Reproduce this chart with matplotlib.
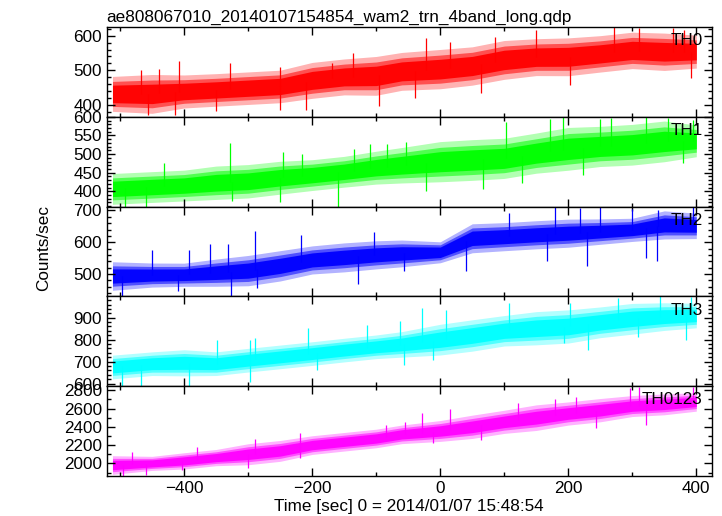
import numpy as np
import matplotlib
matplotlib.use("Agg")
import matplotlib.pyplot as plt
from matplotlib.ticker import MultipleLocator

plt.rcParams['font.family'] = ['Liberation Sans', 'DejaVu Sans']

title = "ae808067010_20140107154854_wam2_trn_4band_long.qdp"
xlabel = "Time [sec] 0 = 2014/01/07 15:48:54"
ylabel = "Counts/sec"
names = ["TH0", "TH1", "TH2", "TH3", "TH0123"]
colors = ["#ff0000", "#00ff00", "#0000ff", "#00ffff", "#ff00ff"]

# time grid of envelope readings (sec)
t_grid = [-512, -450, -400, -350, -300, -250, -200, -150, -100, -60, 0,
          50, 100, 150, 200, 250, 300, 350, 400]

# core band (low / high)
th0_lo = [396, 392, 405, 410, 415, 420, 434, 444, 444, 458, 463, 473, 490, 500, 500, 510, 520, 515, 520]
th0_hi = [468, 472, 473, 477, 482, 487, 508, 518, 524, 536, 544, 552, 570, 576, 578, 585, 595, 592, 588]
th1_lo = [377, 382, 386, 391, 395, 405, 414, 423, 432, 436, 441, 445, 450, 464, 473, 482, 486, 495, 505]
th1_hi = [436, 441, 445, 455, 459, 468, 473, 482, 495, 504, 518, 523, 527, 541, 555, 559, 564, 573, 566]
th2_lo = [462, 470, 472, 474, 477, 492, 513, 520, 529, 535, 545, 580, 586, 592, 597, 605, 613, 623, 623]
th2_hi = [526, 524, 524, 535, 545, 560, 576, 585, 592, 595, 592, 645, 649, 655, 660, 662, 665, 686, 680]
th3_lo = [637, 652, 652, 652, 668, 683, 698, 714, 729, 737, 750, 768, 791, 798, 806, 829, 845, 860, 870]
th3_hi = [714, 729, 737, 729, 745, 760, 775, 791, 806, 820, 850, 870, 890, 906, 914, 929, 945, 950, 950]
th4_lo = [1909, 1945, 1964, 2000, 2018, 2055, 2127, 2164, 2200, 2245, 2273, 2309, 2364, 2400, 2455, 2491, 2545, 2564, 2600]
th4_hi = [2055, 2055, 2091, 2127, 2182, 2218, 2273, 2309, 2345, 2390, 2436, 2491, 2545, 2600, 2636, 2673, 2709, 2727, 2745]

# prominent spikes (time, value)
th0_sp_t = [-467, -408, -440, -328, -250, -169, -136, -22, 15, 86, 150, 271, 311, 364, 380,
            -457, -414, -350, -251, -210, -96, -40, 64, 203, 391]
th0_sp_v = [501, 527, 505, 520, 510, 520, 549, 592, 583, 597, 616, 624, 622, 622, 615,
            372, 372, 382, 387, 385, 396, 420, 434, 458, 477]
th1_sp_t = [-432, -329, -245, -216, -135, -110, -83, -53, 103, 171, 191, 249, 267, 322, 356, 395,
            -492, -460, -325, -250, -159, -23, 67, 127, 223, 379]
th1_sp_v = [477, 530, 505, 500, 514, 527, 527, 532, 586, 595, 600, 595, 598, 600, 598, 592,
            355, 356, 373, 370, 359, 400, 405, 423, 445, 477]
th2_sp_t = [-450, -393, -360, -331, -289, -217, -104, 108, 179, 218, 250, 300, 340, 395,
            -497, -410, -327, -287, -128, -56, 41, 166, 229, 322, 338]
th2_sp_v = [577, 575, 594, 594, 634, 624, 631, 692, 710, 708, 712, 706, 700, 712,
            431, 446, 431, 456, 468, 509, 509, 541, 527, 551, 541]
th3_sp_t = [-349, -297, -289, -206, -115, -63, -28, 9, 108, 202, 278, 343, 392,
            -497, -468, -393, -297, -193, -57, -11, 194, 231, 309, 384]
th3_sp_v = [798, 798, 806, 852, 868, 883, 945, 937, 968, 968, 991, 998, 995,
            591, 591, 591, 606, 660, 683, 706, 783, 752, 814, 798]
th4_sp_t = [-482, -380, -289, -219, -84, -55, -28, 15, 121, 179, 212, 296, 311, 395,
            -495, -460, -404, -300, -219, -11, 64, 244, 322]
th4_sp_v = [2127, 2182, 2262, 2327, 2418, 2455, 2553, 2600, 2655, 2709, 2727, 2829, 2836, 2836,
            1862, 1875, 1927, 1945, 2055, 2218, 2255, 2382, 2418]

los = [th0_lo, th1_lo, th2_lo, th3_lo, th4_lo]
his = [th0_hi, th1_hi, th2_hi, th3_hi, th4_hi]
sp_ts = [th0_sp_t, th1_sp_t, th2_sp_t, th3_sp_t, th4_sp_t]
sp_vs = [th0_sp_v, th1_sp_v, th2_sp_v, th3_sp_v, th4_sp_v]

ylims = [(366, 625), (359, 600), (430, 712), (588, 997), (1862, 2844)]
ymaj = [100, 50, 100, 100, 200]
ymin = [20, 10, 20, 20, 100]

FS = 12.3

fig = plt.figure(figsize=(7.22, 5.16), dpi=100)
gs = fig.add_gridspec(5, 1, left=0.1478, right=0.9857, top=0.9477, bottom=0.0775, hspace=0)
axes = [fig.add_subplot(gs[i]) for i in range(5)]

t = np.array(t_grid, dtype=float)
for i, ax in enumerate(axes):
    lo = np.array(los[i], dtype=float)
    hi = np.array(his[i], dtype=float)
    c = colors[i]
    w = hi - lo
    # faint outer halo (error-bar extent)
    ax.fill_between(t, lo - 0.2 * w, hi + 0.2 * w, color=c, lw=0, alpha=0.3)
    # lighter outer part of the band
    ax.fill_between(t, lo, hi, color=c, lw=0, alpha=0.55)
    # saturated core
    ax.fill_between(t, lo + 0.15 * w, hi - 0.15 * w, color=c, lw=0, alpha=0.95)
    st = np.array(sp_ts[i], dtype=float)
    sv = np.array(sp_vs[i], dtype=float)
    base = np.interp(st, t, (lo + hi) / 2)
    ax.vlines(st, base, sv, color=c, lw=0.9)
    ax.set_xlim(-521, 424)
    ax.set_ylim(*ylims[i])
    ax.xaxis.set_major_locator(MultipleLocator(200))
    ax.xaxis.set_minor_locator(MultipleLocator(100))
    ax.yaxis.set_major_locator(MultipleLocator(ymaj[i]))
    ax.yaxis.set_minor_locator(MultipleLocator(ymin[i]))
    ax.tick_params(which='both', direction='in', top=True, right=True,
                   labelsize=FS, colors='black', width=1.0)
    ax.tick_params(which='major', length=6)
    ax.tick_params(which='minor', length=3)
    for s in ax.spines.values():
        s.set_linewidth(1.0)
        s.set_zorder(3)
    ax.text(0.985, 0.93, names[i], transform=ax.transAxes, ha='right', va='top',
            fontsize=FS, zorder=4)
    if i < 4:
        ax.tick_params(labelbottom=False)

axes[0].set_title(title, loc='left', fontsize=FS, pad=4)
axes[-1].set_xlabel(xlabel, fontsize=FS, labelpad=2)
fig.text(0.06, 0.52, ylabel, rotation=90, ha='center', va='center', fontsize=FS)

fig.savefig("out.png", dpi=100)
